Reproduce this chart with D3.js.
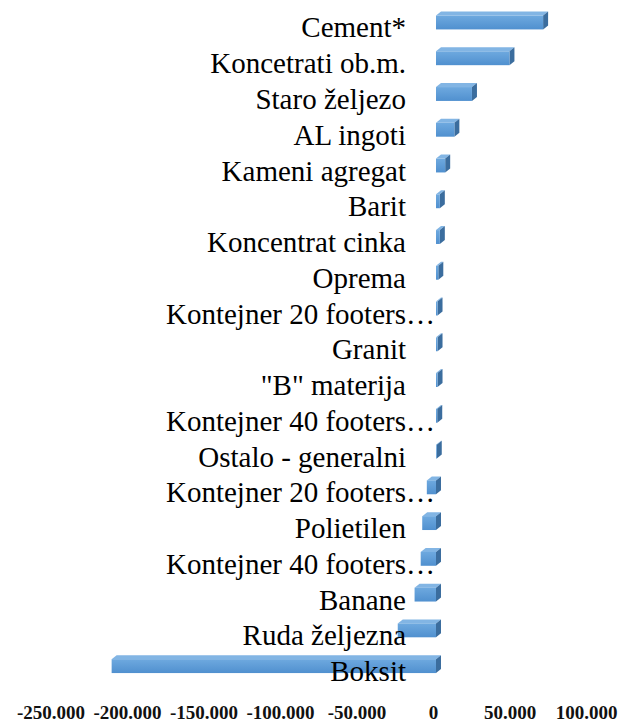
<!DOCTYPE html>
<html>
<head>
<meta charset="utf-8">
<script src="https://cdn.jsdelivr.net/npm/d3@7"></script>
<style>
  body { margin: 0; background: #fff; }
  svg { display: block; }
</style>
</head>
<body>
<div id="vis"></div>
<script>
// categories, top to bottom
var categories = ['Cement*', 'Koncetrati ob.m.', 'Staro željezo', 'AL ingoti', 'Kameni agregat',
  'Barit', 'Koncentrat cinka', 'Oprema', 'Kontejner 20 footers…', 'Granit', '"B" materija',
  'Kontejner 40 footers…', 'Ostalo - generalni', 'Kontejner 20 footers…', 'Polietilen',
  'Kontejner 40 footers…', 'Banane', 'Ruda željezna', 'Boksit'];
var values = [70000, 48000, 23500, 12000, 6000, 2500, 2500, 1500, 1000, 1000, 1000,
  800, 500, -6000, -9000, -10000, -14000, -25000, -212000];
var tickValues = [-250000, -200000, -150000, -100000, -50000, 0, 50000, 100000];

var width = 623;
var height = 722;
var depthX = 5, depthY = 4; // fake 3d depth
var serif = 'Liberation Serif, Times New Roman, serif';

var svg = d3.select('#vis').append('svg')
  .attr('width', width)
  .attr('height', height);

var defs = svg.append('defs');
var grad = defs.append('linearGradient')
  .attr('id', 'front')
  .attr('x1', 0).attr('y1', 0).attr('x2', 0).attr('y2', 1);
grad.append('stop').attr('offset', '0%').attr('stop-color', '#6ea9df');
grad.append('stop').attr('offset', '100%').attr('stop-color', '#5090cf');

var x = d3.scaleLinear()
  .domain([-250000, 100000])
  .range([50.5, 586]);

var y = d3.scaleBand()
  .domain(d3.range(categories.length))
  .range([2.6, 682])
  .paddingInner(0.5)
  .paddingOuter(0.25);

var bars = svg.selectAll('.bar')
  .data(values)
  .enter().append('g')
  .attr('class', 'bar');

function x0(d) { return x(Math.min(0, d)) + 3; }
function x1(d) { return x(Math.max(0, d)) + 3; }
function barTop(i) { return y(i) + depthY; }
var bh = y.bandwidth() - depthY;

// top face
bars.append('path')
  .attr('fill', '#82b5e4')
  .attr('d', function (d, i) {
    var t = barTop(i);
    return 'M' + x0(d) + ',' + t + 'L' + (x0(d) + depthX) + ',' + (t - depthY) +
      'L' + (x1(d) + depthX) + ',' + (t - depthY) + 'L' + x1(d) + ',' + t + 'Z';
  });

// side face
bars.append('path')
  .attr('fill', '#3b6d9e')
  .attr('d', function (d, i) {
    var t = barTop(i);
    return 'M' + x1(d) + ',' + t + 'L' + (x1(d) + depthX) + ',' + (t - depthY) +
      'L' + (x1(d) + depthX) + ',' + (t - depthY + bh) + 'L' + x1(d) + ',' + (t + bh) + 'Z';
  });

// front face
bars.append('rect')
  .attr('fill', 'url(#front)')
  .attr('x', function (d) { return x0(d); })
  .attr('y', function (d, i) { return barTop(i); })
  .attr('width', function (d) { return x1(d) - x0(d); })
  .attr('height', bh);

// category labels, drawn over the bars
var labelX = 406;
var labels = svg.selectAll('.label')
  .data(categories)
  .enter().append('g')
  .attr('class', 'label');

labels.append('text')
  .attr('x', labelX)
  .attr('y', function (d, i) { return y(i) + y.bandwidth() / 2 + 17; })
  .attr('text-anchor', 'end')
  .text(function (d) { return d.replace('…', ''); });

// truncated labels: the ellipsis hangs past the right edge
labels.each(function (d, i) {
  if (d.indexOf('…') < 0) return;
  d3.select(this).append('text')
    .attr('x', labelX)
    .attr('y', y(i) + y.bandwidth() / 2 + 17)
    .text('…');
});

labels.selectAll('text')
  .style('font-family', serif)
  .style('font-size', '29px')
  .style('fill', '#000');

// x axis, no line and no ticks
var fmt = function (v) { return d3.format(',')(v).replace(/,/g, '.').replace('−', '-'); };
var axis = svg.append('g')
  .attr('transform', 'translate(0,' + 702 + ')')
  .call(d3.axisBottom(x).tickValues(tickValues).tickSize(0).tickFormat(fmt));
axis.select('.domain').remove();
axis.selectAll('text')
  .style('font-family', serif)
  .style('font-size', '19px')
  .style('font-weight', 'bold')
  .style('fill', '#111')
  .attr('dy', '0.71em');
</script>
</body>
</html>
